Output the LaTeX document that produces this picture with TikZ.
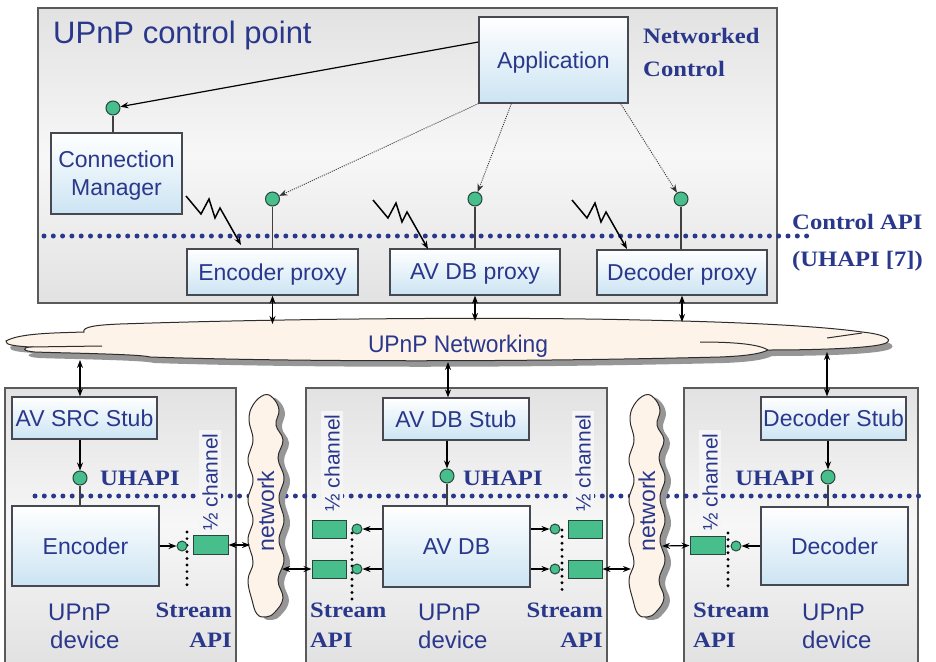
\documentclass[tikz,border=0pt]{standalone}
\usepackage{fontspec}
\setmainfont{Liberation Sans}
\newfontfamily\lblfont[FakeStretch=1.12]{Liberation Serif Bold}
\usetikzlibrary{arrows.meta}

\definecolor{inktext}{RGB}{42,56,140}
\definecolor{boxedge}{RGB}{70,72,82}
\definecolor{boxblue}{RGB}{204,228,243}
\definecolor{panelA}{RGB}{226,226,226}
\definecolor{panelB}{RGB}{247,247,247}
\definecolor{frame}{RGB}{90,90,90}
\definecolor{portgreen}{RGB}{72,190,140}
\definecolor{portedge}{RGB}{40,70,60}
\definecolor{cloudfill}{RGB}{253,243,233}
\definecolor{cloudedge}{RGB}{45,45,45}
\definecolor{shadowgray}{RGB}{150,150,150}
\definecolor{chanbg}{RGB}{245,245,245}

\newcommand\bigcloudpath{%
  (6,341) .. controls (20,333) and (55,333) .. (84,332)
  .. controls (82,327) and (95,325) .. (120,324)
  .. controls (300,318) and (520,317) .. (640,320)
  .. controls (740,322) and (820,326) .. (862,332)
  .. controls (882,334) and (894,339) .. (886,343)
  .. controls (876,348) and (820,350) .. (768,350)
  .. controls (760,354) and (745,356) .. (720,357)
  .. controls (520,362) and (300,362) .. (150,357)
  .. controls (140,354) and (60,353) .. (35,352)
  .. controls (22,351) and (22,348) .. (30,347)
  .. controls (15,346) and (5,345) .. (6,341) -- cycle}

\newcommand\tallcloudpath{%
  plot[smooth cycle, tension=0.7] coordinates {
  (264,395) (273,398) (279,410) (276,425) (283,440) (278,458) (284,478)
  (279,498) (284,520) (279,540) (284,560) (278,580) (283,598) (275,612)
  (266,617) (257,614) (252,600) (248,580) (253,562) (248,540) (253,520)
  (248,500) (253,480) (248,460) (253,440) (249,420) (253,405)}}

\tikzset{
  blk/.style={draw=boxedge, line width=1.2pt, top color=white, bottom color=boxblue,
    text=inktext, font=\fontsize{23}{28}\selectfont, inner sep=0pt, align=center,
    text depth=0pt},
  portc/.style={circle, draw=portedge, fill=portgreen, line width=1pt,
    minimum size=14pt, inner sep=0pt},
  sportc/.style={portc, minimum size=10pt},
  chan/.style={draw=portedge, fill=portgreen, line width=1pt, inner sep=0pt,
    minimum width=34pt, minimum height=18pt},
  tipA/.tip={Stealth[length=8pt,width=6pt]},
  arr/.style={-tipA, line width=1.2pt},
  darr/.style={tipA-tipA, line width=1.2pt},
  dotarr/.style={-tipA, line width=0.9pt, dash pattern=on 1pt off 1.2pt, draw=black!80},
  zap/.style={-tipA, line width=1.5pt, line join=miter},
  stem/.style={line width=1.2pt, draw=black!75},
  apiline/.style={draw=inktext, line width=5pt, line cap=round, dash pattern=on 0pt off 9.3pt},
  streamline/.style={draw=black, line width=3.2pt, line cap=round, dash pattern=on 0pt off 6.6pt},
  lbl/.style={text=inktext, font=\lblfont\fontsize{22}{26}\selectfont, inner sep=0pt},
  plain/.style={text=inktext, font=\fontsize{24}{28}\selectfont, inner sep=0pt},
  chanlbl/.style={text=inktext, font=\fontsize{21}{24}\selectfont, rotate=90,
    fill=chanbg, inner xsep=4pt, inner ysep=3pt},
  panel/.style={top color=panelA, bottom color=panelA, middle color=panelB},
  panelframe/.style={draw=frame, line width=1.2pt},
  cloudbody/.style={fill=cloudfill, draw=cloudedge, line width=1pt},
  cloudshadow/.style={fill=shadowgray},
}

\begin{document}
\begin{tikzpicture}[x=1pt, y=-1pt]
\useasboundingbox (0,0) rectangle (936,661);

% ---- panels ----
\fill[panel] (38,8) rectangle (777,303);
\draw[panelframe] (38,8) rectangle (777,303);
\foreach \l/\r in {5/236, 306/607, 684/918}{
  \fill[panel] (\l,388) rectangle (\r,661);
  \draw[panelframe] (\l,663) -- (\l,388) -- (\r,388) -- (\r,663);
}

% ---- API boundaries ----
\draw[apiline] (44,236) -- (813,236);
\draw[apiline] (35,496) -- (923,496);

% ---- clouds ----
\fill[cloudshadow, shift={(4,6)}] \bigcloudpath;
\path[cloudbody] \bigcloudpath;
\draw[cloudedge, line width=1pt] (30,347) -- (102,346);
\draw[cloudedge, line width=1pt] (700,342) .. controls (740,342) and (760,345) .. (768,350);
\draw[cloudedge, line width=1pt] (827,338) -- (862,333);
\node[font=\fontsize{24}{28}\selectfont, text=inktext, xscale=0.95] (upnpnet) at (458,346) {UPnP Networking};

\foreach \dx in {0,381}{
  \begin{scope}[xshift=\dx pt]
    \fill[cloudshadow, shift={(6,3)}] \tallcloudpath;
    \path[cloudbody] \tallcloudpath;
  \end{scope}
}
\node[text=inktext, font=\fontsize{23}{26}\selectfont, rotate=90] (netL) at (266,511) {network};
\node[text=inktext, font=\fontsize{23}{26}\selectfont, rotate=90] (netR) at (647,511) {network};

% ---- control point ----
\node[anchor=base west, text=inktext, font=\fontsize{31}{34}\selectfont, inner sep=0pt]
  (cptitle) at (53,44) {UPnP control point};
\node[lbl, anchor=base west] (nc1) at (643,44) {Networked};
\node[lbl, anchor=base west] (nc2) at (643,76) {Control};
\node[lbl, anchor=base west] (capi1) at (792,229) {Control API};
\node[lbl, anchor=base west] (capi2) at (792,266) {(UHAPI [7])};

\node[blk, minimum width=149pt, minimum height=86pt] (app) at (553.5,60) {Application};
\node[blk, minimum width=131pt, minimum height=81pt] (cm) at (116.5,173.5) {Connection\\Manager};
\node[blk, minimum width=171pt, minimum height=46pt] (encp) at (272.5,272) {Encoder proxy};
\node[blk, minimum width=170pt, minimum height=46pt] (avdbp) at (475,272) {AV DB proxy};
\node[blk, minimum width=170pt, minimum height=45pt] (decp) at (682,272.5) {Decoder proxy};

\node[portc] (cmC) at (113,108) {};
\node[portc] (encC) at (272.5,199) {};
\node[portc] (avdbC) at (475,199) {};
\node[portc] (decC) at (681,199) {};

\draw[stem] (cmC.south) -- (cmC.south |- cm.north);
\draw[stem] (encC.south) -- (encC.south |- encp.north);
\draw[stem] (avdbC.south) -- (avdbC.south |- avdbp.north);
\draw[stem] (decC.south) -- (decC.south |- decp.north);

\draw[arr] ([yshift=18pt]app.west) -- (cmC);
\draw[dotarr] (app.south west) -- (encC);
\draw[dotarr] ([xshift=33pt]app.south west) -- (avdbC);
\draw[dotarr] ([xshift=-8pt]app.south east) -- (decC);

% connection manager signalling the proxies
\coordinate (zA) at (186,196);
\coordinate (zB) at (373,200);
\coordinate (zC) at (572,200);
\foreach \z in {zA,zB,zC}{
  \draw[zap] (\z) -- ++(15,18) -- ++(8,-15) -- ++(6,19) -- ++(5,-10) -- ++(21,37);
}

% proxies to the networking layer
\coordinate (nt1) at (272.5,324);
\coordinate (nt2) at (475,321);
\coordinate (nt3) at (682,322);
\draw[darr] (encp.south) -- (nt1);
\draw[darr] (avdbp.south) -- (nt2);
\draw[darr] (decp.south) -- (nt3);

% ---- devices ----
\node[blk, minimum width=145pt, minimum height=42pt] (avsrc) at (84.5,418) {AV SRC Stub};
\node[blk, minimum width=147pt, minimum height=80pt] (enc) at (85.5,546) {Encoder};
\node[blk, minimum width=146pt, minimum height=42pt] (avdbs) at (456,419) {AV DB Stub};
\node[blk, minimum width=147pt, minimum height=81pt] (avdb) at (456.5,546.5) {AV DB};
\node[blk, minimum width=145pt, minimum height=43pt] (decs) at (833.5,418.5) {Decoder Stub};
\node[blk, minimum width=147pt, minimum height=78pt] (dec) at (834.5,546) {Decoder};

\coordinate (nb1) at (80,360);
\coordinate (nb2) at (448,362);
\coordinate (nb3) at (827,352);
\draw[darr] (nb1) -- (avsrc.north -| nb1);
\draw[darr] (nb2) -- (avdbs.north -| nb2);
\draw[darr] (nb3) -- (decs.north -| nb3);

\node[portc] (srcC) at (80,478) {};
\node[portc] (dbC) at (447,476) {};
\node[portc] (dcC) at (828,477) {};
\draw[arr] (avsrc.south -| srcC) -- (srcC);
\draw[arr] (avdbs.south -| dbC) -- (dbC);
\draw[arr] (decs.south -| dcC) -- (dcC);
\draw[stem] (srcC.south) -- (srcC.south |- enc.north);
\draw[stem] (dbC.south) -- (dbC.south |- avdb.north);
\draw[stem] (dcC.south) -- (dcC.south |- dec.north);

\node[lbl, anchor=base west] (uh1) at (100,485) {UHAPI};
\node[lbl, anchor=base west] (uh2) at (463,485) {UHAPI};
\node[lbl, anchor=base east] (uh3) at (815,485) {UHAPI};

% stream API boundaries
\draw[streamline] (187,532) -- (187,588);
\draw[streamline] (352,533) -- (352,600);
\draw[streamline] (562,530) -- (562,592);
\draw[streamline] (728,533) -- (728,590);

% half channels
\node[chan, minimum width=35pt, minimum height=19pt] (g1) at (210.5,545) {};
\node[chan] (g2) at (329,529) {};
\node[chan] (g3) at (329,569) {};
\node[chan] (g4) at (585,529) {};
\node[chan] (g5) at (585,569) {};
\node[chan, minimum width=35pt] (g6) at (707.5,545.5) {};

\node[sportc] (s1) at (182,546) {};
\node[sportc] (s2) at (357,529) {};
\node[sportc] (s3) at (357,569) {};
\node[sportc] (s4) at (555,529) {};
\node[sportc] (s5) at (555,569) {};
\node[sportc] (s6) at (736,546) {};

\draw[arr] (enc.east |- s1) -- (s1);
\draw[arr] (avdb.west |- s2) -- (s2);
\draw[arr] (avdb.west |- s3) -- (s3);
\draw[arr] (avdb.east |- s4) -- (s4);
\draw[arr] (avdb.east |- s5) -- (s5);
\draw[arr] (dec.west |- s6) -- (s6);

\coordinate (lc1) at (250,545);
\coordinate (lc2) at (282,569);
\coordinate (rc1) at (631,569);
\coordinate (rc2) at (662,546);
\draw[darr] (g1.east) -- (lc1);
\draw[darr] (lc2) -- (g3.west);
\draw[darr] (g5.east) -- (rc1);
\draw[darr] (rc2) -- (g6.west);

\node[chanlbl] (hc1) at (210,482) {½ channel};
\node[chanlbl] (hc2) at (332,463) {½ channel};
\node[chanlbl] (hc3) at (583,463) {½ channel};
\node[chanlbl] (hc4) at (710,482) {½ channel};

% stream API labels
\node[lbl, anchor=base east] (sa1) at (232,617) {Stream};
\node[lbl, anchor=base east] (sb1) at (232,647) {API};
\node[lbl, anchor=base west] (sa2) at (310,617) {Stream};
\node[lbl, anchor=base west] (sb2) at (310,647) {API};
\node[lbl, anchor=base east] (sa3) at (603,617) {Stream};
\node[lbl, anchor=base east] (sb3) at (603,647) {API};
\node[lbl, anchor=base west] (sa4) at (693,617) {Stream};
\node[lbl, anchor=base west] (sb4) at (693,647) {API};

% device captions
\node[plain, anchor=base west] (ud1) at (48,620) {UPnP};
\node[plain, anchor=base west] (dv1) at (50,648) {device};
\node[plain, anchor=base west] (ud2) at (418,620) {UPnP};
\node[plain, anchor=base west] (dv2) at (418,648) {device};
\node[plain, anchor=base west] (ud3) at (802,620) {UPnP};
\node[plain, anchor=base west] (dv3) at (802,648) {device};
\end{tikzpicture}
\end{document}
